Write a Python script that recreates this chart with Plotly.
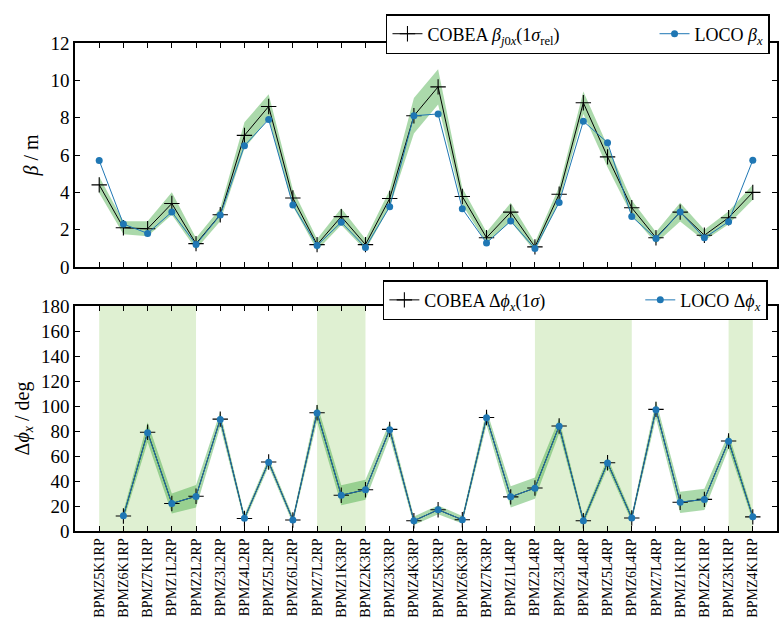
import plotly.graph_objects as go

# BPM names along the ring section
bpm_names = [
    "BPMZ5K1RP", "BPMZ6K1RP", "BPMZ7K1RP", "BPMZ1L2RP", "BPMZ2L2RP", "BPMZ3L2RP",
    "BPMZ4L2RP", "BPMZ5L2RP", "BPMZ6L2RP", "BPMZ7L2RP", "BPMZ1K3RP", "BPMZ2K3RP",
    "BPMZ3K3RP", "BPMZ4K3RP", "BPMZ5K3RP", "BPMZ6K3RP", "BPMZ7K3RP", "BPMZ1L4RP",
    "BPMZ2L4RP", "BPMZ3L4RP", "BPMZ4L4RP", "BPMZ5L4RP", "BPMZ6L4RP", "BPMZ7L4RP",
    "BPMZ1K1RP", "BPMZ2K1RP", "BPMZ3K1RP", "BPMZ4K1RP",
]

# Horizontal beta function (m)
beta_cobea = [4.4, 2.1, 2.05, 3.4, 1.25, 2.8, 7.05, 8.6, 3.7, 1.2, 2.7, 1.2,
              3.67, 8.1, 9.65, 3.78, 1.57, 2.94, 1.08, 3.9, 8.8, 5.9, 3.17, 1.57,
              2.94, 1.7, 2.64, 4.0]
beta_cobea_err = [0.43, 0.35, 0.4, 0.6, 0.3, 0.35, 0.7, 0.65, 0.45, 0.3, 0.45, 0.3,
                  0.45, 0.95, 0.95, 0.45, 0.3, 0.5, 0.25, 0.4, 0.6, 0.55, 0.4, 0.3,
                  0.5, 0.3, 0.35, 0.4]
beta_loco = [5.7, 2.3, 1.8, 2.95, 1.2, 2.78, 6.5, 7.9, 3.32, 1.15, 2.4, 1.05,
             3.23, 8.1, 8.2, 3.12, 1.29, 2.46, 0.99, 3.46, 7.81, 6.66, 2.71, 1.52,
             2.94, 1.56, 2.43, 5.72]

# Horizontal phase advance between neighbouring BPMs (deg); none for the first BPM
dphi_cobea = [None, 12.0, 79.0, 22.0, 27.8, 89.5, 10.0, 55.2, 8.8, 94.6, 28.6, 33.0,
              81.3, 8.2, 17.0, 9.0, 90.8, 27.3, 34.4, 84.0, 8.2, 54.6, 10.4, 97.3,
              23.0, 25.3, 72.0, 11.3]
dphi_cobea_err = [None, 4, 8, 8, 9, 6, 3, 3.5, 3, 7, 8, 8,
                  6, 3.5, 3.5, 3, 6, 8.5, 8.5, 6, 3, 4, 3, 7,
                  8.5, 8.5, 6, 3.5]
dphi_loco = [None, 12.2, 78.7, 22.1, 27.7, 89.3, 10.1, 55.0, 8.8, 94.4, 28.7, 33.0,
             81.1, 8.2, 17.0, 9.0, 90.7, 27.4, 34.3, 83.8, 8.2, 54.5, 10.4, 97.1,
             23.1, 25.3, 71.8, 11.4]

# BPM index ranges highlighted in the phase-advance panel
shaded_spans = [(0, 4), (9, 11), (18, 22), (26, 27)]

idx = list(range(len(bpm_names)))
SERIF = "Liberation Serif"
BAND = "rgba(44,160,44,0.40)"
SPAN = "rgb(223,240,210)"
BLUE = "#1f77b4"
GAP = "\u2003" * 5  # spacing between the two legend entries

CROSS = dict(symbol="cross-thin", size=11, line=dict(color="black", width=1.1))
DOT = dict(color=BLUE, size=7)

fig = go.Figure()

# ---- beta panel ----
lo = [v - e for v, e in zip(beta_cobea, beta_cobea_err)]
hi = [v + e for v, e in zip(beta_cobea, beta_cobea_err)]
fig.add_trace(go.Scatter(x=idx, y=lo, mode="lines", line=dict(width=0),
                         showlegend=False, hoverinfo="skip", xaxis="x", yaxis="y"))
fig.add_trace(go.Scatter(x=idx, y=hi, mode="lines", line=dict(width=0), fill="tonexty",
                         fillcolor=BAND, showlegend=False, hoverinfo="skip",
                         xaxis="x", yaxis="y"))
fig.add_trace(go.Scatter(
    x=idx, y=beta_cobea, mode="lines+markers",
    name="COBEA <i>β</i><sub><i>j</i>0<i>x</i></sub>(1<i>σ</i><sub>rel</sub>)" + GAP,
    line=dict(color="black", width=1), marker=CROSS,
    xaxis="x", yaxis="y", legend="legend"))
fig.add_trace(go.Scatter(
    x=idx, y=beta_loco, mode="lines+markers", name="LOCO <i>β</i><sub><i>x</i></sub>",
    line=dict(color=BLUE, width=1), marker=DOT,
    xaxis="x", yaxis="y", legend="legend"))

# ---- phase advance panel ----
px = idx[1:]
lo2 = [v - e for v, e in zip(dphi_cobea[1:], dphi_cobea_err[1:])]
hi2 = [v + e for v, e in zip(dphi_cobea[1:], dphi_cobea_err[1:])]
fig.add_trace(go.Scatter(x=px, y=lo2, mode="lines", line=dict(width=0),
                         showlegend=False, hoverinfo="skip", xaxis="x2", yaxis="y2"))
fig.add_trace(go.Scatter(x=px, y=hi2, mode="lines", line=dict(width=0), fill="tonexty",
                         fillcolor=BAND, showlegend=False, hoverinfo="skip",
                         xaxis="x2", yaxis="y2"))
fig.add_trace(go.Scatter(
    x=px, y=dphi_cobea[1:], mode="lines+markers",
    name="COBEA Δ<i>ϕ</i><sub><i>x</i></sub>(1<i>σ</i>)" + GAP,
    line=dict(color="black", width=1), marker=CROSS,
    xaxis="x2", yaxis="y2", legend="legend2"))
fig.add_trace(go.Scatter(
    x=px, y=dphi_loco[1:], mode="lines+markers", name="LOCO Δ<i>ϕ</i><sub><i>x</i></sub>",
    line=dict(color=BLUE, width=1), marker=DOT,
    xaxis="x2", yaxis="y2", legend="legend2"))

for a, b in shaded_spans:
    fig.add_shape(type="rect", xref="x2", yref="y2 domain", x0=a, x1=b, y0=0, y1=1,
                  fillcolor=SPAN, line=dict(width=0), layer="below")

axis_common = dict(
    showline=True, linecolor="black", linewidth=1.5, mirror="ticks",
    ticks="inside", ticklen=5, tickwidth=1, tickcolor="black",
    showgrid=False, zeroline=False,
    tickfont=dict(family=SERIF, size=19, color="black"),
)

legend_common = dict(
    orientation="h", bgcolor="white", bordercolor="black", borderwidth=1.5,
    font=dict(family=SERIF, size=18, color="black"), traceorder="normal",
    xanchor="right", yanchor="top",
)

fig.update_layout(
    width=779, height=620,
    margin=dict(l=75, r=0, t=43, b=89),
    paper_bgcolor="white", plot_bgcolor="white",
    font=dict(family=SERIF, color="black"),
    xaxis=dict(domain=[0, 1], range=[-1, 28], tickvals=idx, showticklabels=False,
               anchor="y", **axis_common),
    yaxis=dict(domain=[0.541, 1], range=[0, 12], dtick=2, anchor="x",
               title=dict(text="<i>β</i> / m", font=dict(family=SERIF, size=20),
                          standoff=6),
               **axis_common),
    xaxis2=dict(domain=[0, 1], range=[-1, 28], tickvals=idx, ticktext=bpm_names,
                tickangle=-90, anchor="y2",
                **{**axis_common, "tickfont": dict(family=SERIF, size=14, color="black")}),
    yaxis2=dict(domain=[0, 0.461], range=[0, 180], dtick=20, anchor="x2",
                title=dict(text="Δ<i>ϕ</i><sub><i>x</i></sub> / deg",
                           font=dict(family=SERIF, size=20), standoff=6),
                **axis_common),
    legend=dict(x=0.990, y=1.0594, **legend_common),
    legend2=dict(x=0.987, y=0.514, **legend_common),
)

fig.write_html("out.html")
